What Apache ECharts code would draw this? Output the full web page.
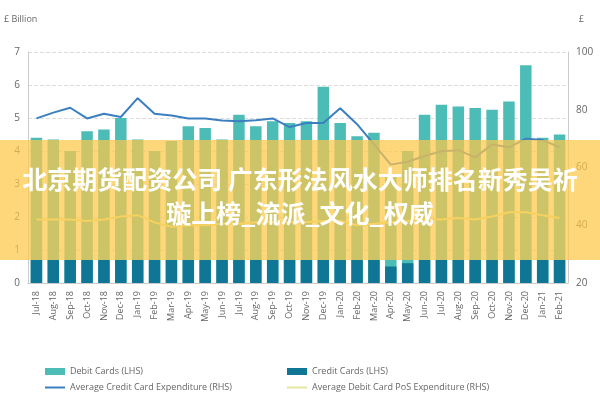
<!DOCTYPE html>
<html>
<head>
<meta charset="utf-8">
<script src="https://cdn.jsdelivr.net/npm/echarts@6/dist/echarts.min.js"></script>
<style>html,body{margin:0;padding:0;background:#fff}#main{width:600px;height:400px}</style>
</head>
<body>
<div id="main"></div>
<script>
// months Jul-18 .. Feb-21
var months = ['Jul-18','Aug-18','Sep-18','Oct-18','Nov-18','Dec-18','Jan-19','Feb-19','Mar-19','Apr-19','May-19','Jun-19',
	'Jul-19','Aug-19','Sep-19','Oct-19','Nov-19','Dec-19','Jan-20','Feb-20','Mar-20','Apr-20','May-20','Jun-20',
	'Jul-20','Aug-20','Sep-20','Oct-20','Nov-20','Dec-20','Jan-21','Feb-21'];
var debitCards = [4.4,4.35,4.0,4.6,4.65,5.0,4.35,4.0,4.3,4.75,4.7,4.35,5.1,4.75,4.9,4.85,4.9,5.95,4.85,4.45,4.55,3.3,4.0,5.1,5.4,5.35,5.3,5.25,5.5,6.6,4.4,4.5];
var creditCards = [0.7,0.7,0.7,0.7,0.7,0.7,0.7,0.7,0.7,0.7,0.7,0.7,0.7,0.7,0.7,0.7,0.7,0.7,0.7,0.7,0.7,0.5,0.6,0.7,0.7,0.7,0.7,0.7,0.7,0.7,0.7,0.7];
var avgCreditSpend = [77,79,80.7,77,78.6,77.5,84,78.6,78,77,77,76.3,76,76.4,77,74,75.4,75.4,80.5,75,68,61,62,64,65.6,66,63.5,68,67,70,69.5,67];
var avgDebitPos = [42,42,42,41.5,42,43,43.5,41,39.5,40,40,40.5,40.5,41,41,41,41,41.5,41.5,40,40.5,41,41.5,42,42,42.5,42,43,44.5,44.5,43.5,42.5];

var myChart = echarts.init(document.getElementById('main'));
var txt = '#666';
var lineIcon = 'path://M0,0 L20,0 L20,2 L0,2 Z';
option = {
	animation: false,
	textStyle: { fontFamily: 'Open Sans' },
	grid: { left: 28, right: 32, top: 52, bottom: 117 },
	legend: [
		{ left: 40, top: 362, orient: 'vertical', itemGap: 7, itemWidth: 20, itemHeight: 7,
		  textStyle: { fontSize: 9, color: txt },
		  data: [{ name: 'Debit Cards (LHS)', icon: 'rect' }, { name: 'Average Credit Card Expenditure (RHS)', icon: lineIcon }] },
		{ left: 282, top: 362, orient: 'vertical', itemGap: 7, itemWidth: 20, itemHeight: 7,
		  textStyle: { fontSize: 9, color: txt },
		  data: [{ name: 'Credit Cards (LHS)', icon: 'rect' }, { name: 'Average Debit Card PoS Expenditure (RHS)', icon: lineIcon }] }
	],
	xAxis: {
		type: 'category', data: months,
		axisLine: { lineStyle: { color: '#ccc' } }, axisTick: { show: false },
		axisLabel: { rotate: 90, fontSize: 9, color: txt, interval: 0 }
	},
	yAxis: [
		{ type: 'value', min: 0, max: 7, interval: 1,
		  name: '£ Billion', nameLocation: 'end', nameGap: 28, nameTextStyle: { fontSize: 9, color: txt, align: 'left', padding: [0,0,0,-24] },
		  axisLine: { show: true, lineStyle: { color: '#ccc' } }, axisLabel: { fontSize: 10, color: txt },
		  splitLine: { lineStyle: { color: '#ddd', type: 'dashed' } } },
		{ type: 'value', min: 20, max: 100, interval: 20,
		  name: '£', nameGap: 28, nameTextStyle: { fontSize: 9, color: txt, align: 'right', padding: [0,-16,0,0] },
		  axisLine: { show: true, lineStyle: { color: '#ccc' } }, axisLabel: { fontSize: 10, color: txt },
		  splitLine: { show: false } }
	],
	series: [
		{ name: 'Debit Cards (LHS)', type: 'bar', data: debitCards, barWidth: '68%', barGap: '-100%',
		  itemStyle: { color: '#4cbcb6' } },
		{ name: 'Credit Cards (LHS)', type: 'bar', data: creditCards, barWidth: '68%',
		  itemStyle: { color: '#0f7695' } },
		{ name: 'Average Credit Card Expenditure (RHS)', type: 'line', yAxisIndex: 1, data: avgCreditSpend,
		  symbol: 'none', lineStyle: { color: '#3b7fc0', width: 2 }, itemStyle: { color: '#3b7fc0' } },
		{ name: 'Average Debit Card PoS Expenditure (RHS)', type: 'line', yAxisIndex: 1, data: avgDebitPos,
		  symbol: 'none', lineStyle: { color: '#e3e8a0', width: 2 }, itemStyle: { color: '#e3e8a0' } }
	],
	graphic: [
		{ type: 'rect', left: 0, top: 140, shape: { width: 600, height: 120 }, z: 100,
		  style: { fill: 'rgba(253,200,70,0.72)' } },
		{ type: 'text', left: 'center', top: 167, z: 101,
		  style: { text: '北京期货配资公司 广东形法风水大师排名新秀吴祈', fill: '#fff', font: 'bold 25px "Noto Sans CJK SC"' } },
		{ type: 'text', left: 'center', top: 201, z: 101,
		  style: { text: '璇上榜_流派_文化_权威', fill: '#fff', font: 'bold 25px "Noto Sans CJK SC"' } }
	]
};
myChart.setOption(option);
</script>
</body>
</html>
